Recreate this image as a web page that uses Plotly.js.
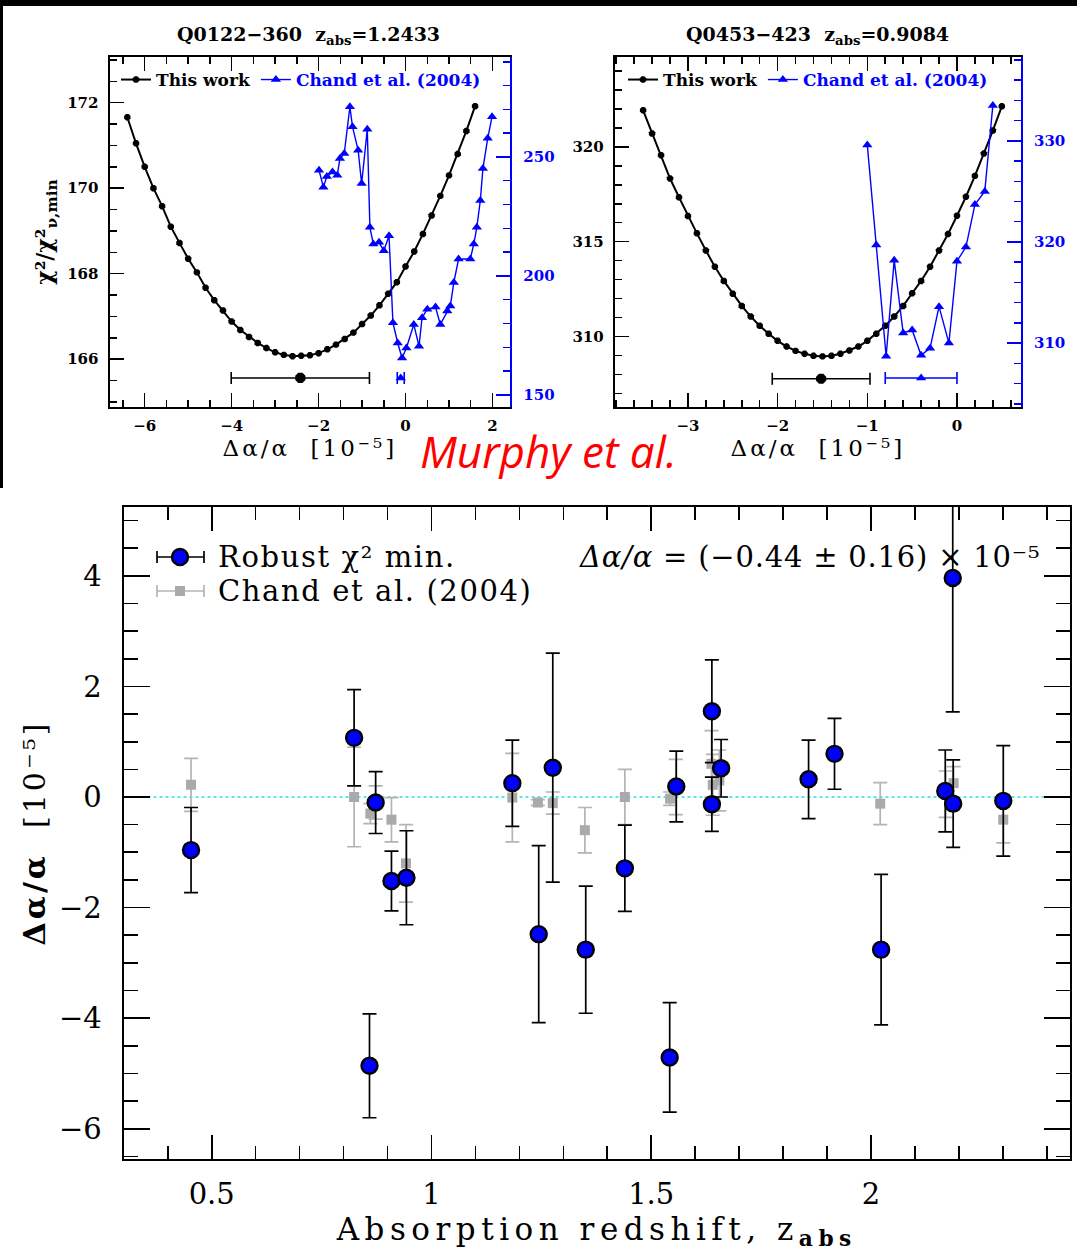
<!DOCTYPE html>
<html>
<head>
<meta charset="utf-8">
<script src="https://cdn.plot.ly/plotly-3.0.1.min.js"></script>
<style>
body { margin: 0; background: #ffffff; }
.xtitle, .x2title { letter-spacing: 3px; }
.x3title { letter-spacing: 5.5px; }
.y5title { letter-spacing: 3px; }
.annotation[data-index="3"] .annotation-text, .annotation[data-index="4"] .annotation-text { letter-spacing: 1.6px; }
.annotation[data-index="5"] .annotation-text { letter-spacing: 0.8px; }
</style>
</head>
<body>
<div id="chart" style="width:1077px;height:1259px;"></div>
<script>
// ---------------- DATA ----------------
// Q0122-360, z_abs = 1.2433 : chi^2 curve of "This work" (left axis)
const q0122_work_dalpha = [-6.4,-6.2,-6.0,-5.8,-5.6,-5.4,-5.2,-5.0,-4.8,-4.6,-4.4,-4.2,-4.0,-3.8,-3.6,-3.4,-3.2,-3.0,-2.8,-2.6,-2.4,-2.2,-2.0,-1.8,-1.6,-1.4,-1.2,-1.0,-0.8,-0.6,-0.4,-0.2,0.0,0.2,0.4,0.6,0.8,1.0,1.2,1.4,1.6];
const q0122_work_chi2 = [171.66,171.05,170.50,170.00,169.58,169.10,168.72,168.35,168.03,167.67,167.38,167.14,166.88,166.68,166.52,166.38,166.26,166.16,166.10,166.07,166.08,166.09,166.14,166.23,166.34,166.47,166.62,166.82,167.02,167.26,167.53,167.80,168.17,168.52,168.93,169.36,169.82,170.30,170.80,171.34,171.92];
// Q0122-360 : Chand et al. (2004) chi^2 curve (right axis)
const q0122_chand_dalpha = [-1.99,-1.89,-1.81,-1.68,-1.57,-1.51,-1.41,-1.28,-1.22,-1.09,-1.01,-0.88,-0.82,-0.74,-0.61,-0.50,-0.38,-0.29,-0.18,-0.08,0.02,0.19,0.31,0.38,0.50,0.69,0.80,0.96,1.03,1.11,1.22,1.49,1.57,1.64,1.72,1.78,1.89,1.99];
const q0122_chand_chi2 = [244.4,237.3,241.8,243.7,242.3,249.3,251.4,271.1,262.7,252.8,238.8,261.6,220.4,213.4,214.1,210.6,216.9,180.3,171.8,165.5,169.7,179.6,170.4,182.4,186.0,186.9,179.6,185.2,187.3,197.2,207.1,207.1,213.4,220.4,231.7,245.1,257.8,266.9];
// Q0122-360 best-fit values with 1-sigma errors
const q0122_work_best = [-2.42], q0122_work_best_err = [1.59], q0122_work_best_level = [165.56];
const q0122_chand_best = [-0.11], q0122_chand_best_err = [0.08], q0122_chand_best_level = [157.1];

// Q0453-423, z_abs = 0.9084
const q0453_work_dalpha = [-3.5,-3.4,-3.3,-3.2,-3.1,-3.0,-2.9,-2.8,-2.7,-2.6,-2.5,-2.4,-2.3,-2.2,-2.1,-2.0,-1.9,-1.8,-1.7,-1.6,-1.5,-1.4,-1.3,-1.2,-1.1,-1.0,-0.9,-0.8,-0.7,-0.6,-0.5,-0.4,-0.3,-0.2,-0.1,0.0,0.1,0.2,0.3,0.4,0.5];
const q0453_work_chi2 = [321.93,320.70,319.56,318.33,317.34,316.35,315.44,314.53,313.68,312.93,312.25,311.61,311.05,310.56,310.14,309.77,309.47,309.24,309.09,308.98,308.95,308.98,309.09,309.26,309.47,309.77,310.14,310.56,311.05,311.61,312.28,312.93,313.68,314.53,315.40,316.37,317.37,318.47,319.65,320.86,322.14];
const q0453_chand_dalpha = [-1.0,-0.90,-0.79,-0.70,-0.60,-0.50,-0.40,-0.30,-0.20,-0.09,0.0,0.10,0.20,0.31,0.40];
const q0453_chand_chi2 = [329.6,319.7,308.7,318.2,311.0,311.3,308.8,309.5,313.6,310.0,318.1,319.5,323.7,325.0,333.5];
const q0453_work_best = [-1.515], q0453_work_best_err = [0.545], q0453_work_best_level = [307.77];
const q0453_chand_best = [-0.40], q0453_chand_best_err = [0.40], q0453_chand_best_level = [306.55];

// Bottom panel: Robust chi^2 minimisation results
const robust_zabs = [0.453,0.824,0.873,0.859,0.909,0.943,1.184,1.244,1.276,1.351,1.440,1.542,1.557,1.638,1.638,1.659,1.858,1.917,2.023,2.169,2.187,2.186,2.301];
const robust_da = [-0.96,1.07,-0.10,-4.86,-1.52,-1.46,0.25,-2.48,0.53,-2.76,-1.29,-4.71,0.19,1.55,-0.13,0.52,0.32,0.78,-2.76,0.11,-0.12,3.96,-0.07];
const robust_err = [0.77,0.87,0.56,0.94,0.54,0.85,0.78,1.60,2.07,1.15,0.78,0.99,0.64,0.93,0.49,0.52,0.71,0.64,1.36,0.74,0.79,2.42,1.00];
// Bottom panel: Chand et al. (2004)
const chand_zabs = [0.453,0.824,0.861,0.873,0.909,0.942,1.184,1.242,1.276,1.349,1.440,1.543,1.556,1.637,1.640,1.655,2.021,2.170,2.188,2.301];
const chand_da = [0.22,0.00,-0.30,-0.10,-0.41,-1.20,-0.01,-0.10,-0.11,-0.60,0.00,-0.03,0.18,0.60,0.22,0.30,-0.12,0.05,0.25,-0.41];
const chand_err = [0.48,0.90,0.18,0.30,0.40,0.70,0.80,0.05,0.20,0.41,0.50,0.12,0.50,0.60,0.55,0.55,0.38,0.42,0.30,0.42];

// Text
const titleLeft = 'Q0122−360  z<sub>abs</sub>=1.2433';
const titleRight = 'Q0453−423  z<sub>abs</sub>=0.9084';
const legendWork = 'This work';
const legendChand = '<span style="color:#0000ff">Chand et al. (2004)</span>';
const topXTitle = 'Δα/α  [10⁻⁵]';
const fitText = '<i>Δα/α</i> = (−0.44 ± 0.16) × 10⁻⁵';

// ---------------- LAYOUT HELPERS ----------------
const W = 1077, H = 1259;
const px = v => v / W;
const py = v => 1 - v / H;
const BLUE = '#0000ff';
const GRAY = '#aaaaaa';
const serif = 'DejaVu Serif';
const topTick = {family: serif, size: 15, color: 'black', weight: 'bold'};
const topTickBlue = {family: serif, size: 15, color: BLUE, weight: 'bold'};
const botTick = {family: serif, size: 29, color: 'black'};

function topX(domain, anchor, range, dtick, minorDtick) {
  return {domain, anchor, range, dtick, tick0: 0, ticks: 'inside', ticklen: 14, tickwidth: 1.5, tickcolor: 'black',
    minor: {dtick: minorDtick, ticks: 'inside', ticklen: 7, tickwidth: 1.5, tickcolor: 'black'},
    showline: true, linewidth: 2, linecolor: 'black', mirror: 'ticks', showgrid: false, zeroline: false,
    tickfont: topTick, ticklabelstandoff: 4,
    title: {text: topXTitle, font: {family: serif, size: 23, color: 'black'}, standoff: 6}};
}
function topYLeft(domain, anchor, range, dtick, tick0, minorDtick, title) {
  const a = {domain, anchor, range, dtick, tick0, ticks: 'inside', ticklen: 14, tickwidth: 1.5, tickcolor: 'black',
    minor: {dtick: minorDtick, ticks: 'inside', ticklen: 7, tickwidth: 1.5, tickcolor: 'black'},
    showline: true, linewidth: 2, linecolor: 'black', showgrid: false, zeroline: false,
    tickfont: topTick, ticklabelstandoff: 6};
  if (title) a.title = {text: title, font: {family: serif, size: 22, color: 'black', weight: 'bold'}, standoff: 8};
  return a;
}
function topYRight(overlay, anchor, range, dtick, tick0, minorDtick) {
  return {overlaying: overlay, side: 'right', anchor, range, dtick, tick0, ticks: 'inside', ticklen: 14, tickwidth: 1.5, tickcolor: BLUE,
    minor: {dtick: minorDtick, ticks: 'inside', ticklen: 7, tickwidth: 1.5, tickcolor: BLUE},
    showline: true, linewidth: 2, linecolor: BLUE, showgrid: false, zeroline: false,
    tickfont: topTickBlue, ticklabelstandoff: 8};
}

const topDomY = [py(407), py(57)];

// ---------------- TRACES ----------------
const data = [
  {x: q0122_work_dalpha, y: q0122_work_chi2, xaxis: 'x', yaxis: 'y', mode: 'lines+markers', name: legendWork, legend: 'legend',
   line: {color: 'black', width: 2}, marker: {symbol: 'octagon', size: 7, color: 'black'}},
  {x: q0122_chand_dalpha, y: q0122_chand_chi2, xaxis: 'x', yaxis: 'y2', mode: 'lines+markers', name: legendChand, legend: 'legend',
   line: {color: BLUE, width: 1.4}, marker: {symbol: 'triangle-up', size: 9, color: BLUE}},
  {x: q0122_work_best, y: q0122_work_best_level, xaxis: 'x', yaxis: 'y', mode: 'markers', showlegend: false,
   marker: {symbol: 'octagon', size: 11, color: 'black'},
   error_x: {type: 'data', array: q0122_work_best_err, color: 'black', thickness: 1.6, width: 6}},
  {x: q0122_chand_best, y: q0122_chand_best_level, xaxis: 'x', yaxis: 'y2', mode: 'markers', showlegend: false,
   marker: {symbol: 'triangle-up', size: 9, color: BLUE},
   error_x: {type: 'data', array: q0122_chand_best_err, color: BLUE, thickness: 1.6, width: 6}},

  {x: q0453_work_dalpha, y: q0453_work_chi2, xaxis: 'x2', yaxis: 'y3', mode: 'lines+markers', name: legendWork, legend: 'legend2',
   line: {color: 'black', width: 2}, marker: {symbol: 'octagon', size: 7, color: 'black'}},
  {x: q0453_chand_dalpha, y: q0453_chand_chi2, xaxis: 'x2', yaxis: 'y4', mode: 'lines+markers', name: legendChand, legend: 'legend2',
   line: {color: BLUE, width: 1.4}, marker: {symbol: 'triangle-up', size: 9, color: BLUE}},
  {x: q0453_work_best, y: q0453_work_best_level, xaxis: 'x2', yaxis: 'y3', mode: 'markers', showlegend: false,
   marker: {symbol: 'octagon', size: 11, color: 'black'},
   error_x: {type: 'data', array: q0453_work_best_err, color: 'black', thickness: 1.6, width: 6}},
  {x: q0453_chand_best, y: q0453_chand_best_level, xaxis: 'x2', yaxis: 'y4', mode: 'markers', showlegend: false,
   marker: {symbol: 'triangle-up', size: 9, color: BLUE},
   error_x: {type: 'data', array: q0453_chand_best_err, color: BLUE, thickness: 1.6, width: 6}},

  {x: chand_zabs, y: chand_da, xaxis: 'x3', yaxis: 'y5', mode: 'markers', showlegend: false, name: 'Chand et al. (2004)',
   marker: {symbol: 'square', size: 10, color: GRAY},
   error_y: {type: 'data', array: chand_err, color: '#b4b4b4', thickness: 1.7, width: 7}},
  {x: robust_zabs, y: robust_da, xaxis: 'x3', yaxis: 'y5', mode: 'markers', showlegend: false, name: 'Robust χ² min.',
   marker: {symbol: 'circle', size: 16, color: BLUE, line: {color: 'black', width: 2.4}},
   error_y: {type: 'data', array: robust_err, color: 'black', thickness: 1.7, width: 7}}
];

// ---------------- LAYOUT ----------------
const legendCommon = {orientation: 'h', xanchor: 'left', yanchor: 'middle', bgcolor: 'rgba(0,0,0,0)', borderwidth: 0,
  font: {family: serif, size: 17, color: 'black', weight: 'bold'}, itemclick: false, itemdoubleclick: false};

const layout = {
  width: W, height: H,
  margin: {l: 0, r: 0, t: 0, b: 0},
  paper_bgcolor: '#ffffff', plot_bgcolor: '#ffffff',
  font: {family: serif, color: 'black'},
  showlegend: true,
  legend: Object.assign({x: px(116), y: py(80)}, legendCommon),
  legend2: Object.assign({x: px(623), y: py(80)}, legendCommon),

  xaxis: topX([px(109.5), px(510.3)], 'y', [-6.81, 2.41], 2, 0.5),
  yaxis: topYLeft(topDomY, 'x', [164.88, 173.07], 2, 166, 0.5, 'χ²/χ²<sub>ν,min</sub>'),
  yaxis2: topYRight('y', 'x', [144.9, 292.0], 50, 150, 10),

  xaxis2: topX([px(614.7), px(1021)], 'y3', [-3.817, 0.714], 1, 0.2),
  yaxis3: topYLeft(topDomY, 'x2', [306.28, 324.74], 5, 310, 1, null),
  yaxis4: topYRight('y3', 'x2', [303.68, 338.29], 10, 310, 2),

  xaxis3: {domain: [px(123.5), px(1070)], anchor: 'y5', range: [0.2993, 2.4528], dtick: 0.5, tick0: 0.5,
    ticks: 'inside', ticklen: 24, tickwidth: 1.6, tickcolor: 'black',
    minor: {dtick: 0.1, ticks: 'inside', ticklen: 13, tickwidth: 1.6, tickcolor: 'black'},
    showline: true, linewidth: 2, linecolor: 'black', mirror: 'ticks', showgrid: false, zeroline: false,
    tickfont: botTick, ticklabelstandoff: 8,
    title: {text: 'Absorption redshift, z<sub><b>abs</b></sub>', font: {family: serif, size: 31, color: 'black'}, standoff: 2}},
  yaxis5: {domain: [py(1159), py(507)], anchor: 'x3', range: [-6.546, 5.244], dtick: 2, tick0: 0,
    ticks: 'inside', ticklen: 26, tickwidth: 1.6, tickcolor: 'black',
    minor: {dtick: 0.5, ticks: 'inside', ticklen: 14, tickwidth: 1.6, tickcolor: 'black'},
    showline: true, linewidth: 2, linecolor: 'black', mirror: 'ticks', showgrid: false, zeroline: false,
    tickfont: botTick, ticklabelstandoff: 14,
    title: {text: '<b>Δα/α</b>  [10⁻⁵]', font: {family: serif, size: 30, color: 'black'}, standoff: 4}},

  shapes: [
    // black border bands of the composite image
    {type: 'rect', xref: 'paper', yref: 'paper', x0: 0, x1: 1, y0: py(6), y1: 1, fillcolor: 'black', line: {width: 0}, layer: 'above'},
    {type: 'rect', xref: 'paper', yref: 'paper', x0: 0, x1: px(3), y0: py(488), y1: 1, fillcolor: 'black', line: {width: 0}, layer: 'above'},
    // zero reference line
    {type: 'line', xref: 'x3 domain', yref: 'y5', x0: 0, x1: 1, y0: 0, y1: 0, line: {color: '#22e0e6', width: 1.6, dash: 'dot'}, layer: 'below'},
    // bottom legend symbols
    {type: 'line', xref: 'paper', yref: 'paper', x0: px(157), x1: px(204), y0: py(557), y1: py(557), line: {color: 'black', width: 1.7}},
    {type: 'line', xref: 'paper', yref: 'paper', x0: px(157), x1: px(157), y0: py(551), y1: py(563), line: {color: 'black', width: 1.7}},
    {type: 'line', xref: 'paper', yref: 'paper', x0: px(204), x1: px(204), y0: py(551), y1: py(563), line: {color: 'black', width: 1.7}},
    {type: 'circle', xref: 'paper', yref: 'paper', x0: px(172), x1: px(188), y0: py(565), y1: py(549), fillcolor: BLUE, line: {color: 'black', width: 2.4}},
    {type: 'line', xref: 'paper', yref: 'paper', x0: px(157), x1: px(204), y0: py(591), y1: py(591), line: {color: '#b4b4b4', width: 1.7}},
    {type: 'line', xref: 'paper', yref: 'paper', x0: px(157), x1: px(157), y0: py(585), y1: py(597), line: {color: '#b4b4b4', width: 1.7}},
    {type: 'line', xref: 'paper', yref: 'paper', x0: px(204), x1: px(204), y0: py(585), y1: py(597), line: {color: '#b4b4b4', width: 1.7}},
    {type: 'rect', xref: 'paper', yref: 'paper', x0: px(175), x1: px(185), y0: py(596), y1: py(586), fillcolor: GRAY, line: {width: 0}}
  ],

  annotations: [
    {text: titleLeft, xref: 'paper', yref: 'paper', x: px(308), y: py(36), xanchor: 'center', yanchor: 'middle', showarrow: false,
     font: {family: serif, size: 19, color: 'black', weight: 'bold'}},
    {text: titleRight, xref: 'paper', yref: 'paper', x: px(817), y: py(36), xanchor: 'center', yanchor: 'middle', showarrow: false,
     font: {family: serif, size: 19, color: 'black', weight: 'bold'}},
    {text: 'Murphy et al.', xref: 'paper', yref: 'paper', x: px(418), y: py(451), xanchor: 'left', yanchor: 'middle', showarrow: false,
     font: {family: 'Open Sans', size: 44, color: '#ff0000', style: 'italic'}},
    {text: 'Robust χ² min.', xref: 'paper', yref: 'paper', x: px(216), y: py(557), xanchor: 'left', yanchor: 'middle', align: 'left', showarrow: false,
     font: {family: serif, size: 29, color: 'black'}},
    {text: 'Chand et al. (2004)', xref: 'paper', yref: 'paper', x: px(216), y: py(591), xanchor: 'left', yanchor: 'middle', align: 'left', showarrow: false,
     font: {family: serif, size: 29, color: 'black'}},
    {text: fitText, xref: 'paper', yref: 'paper', x: px(577), y: py(557), xanchor: 'left', yanchor: 'middle', align: 'left', showarrow: false,
     font: {family: serif, size: 29, color: 'black'}}
  ]
};

Plotly.newPlot('chart', data, layout, {displayModeBar: false, staticPlot: true});
</script>
</body>
</html>
